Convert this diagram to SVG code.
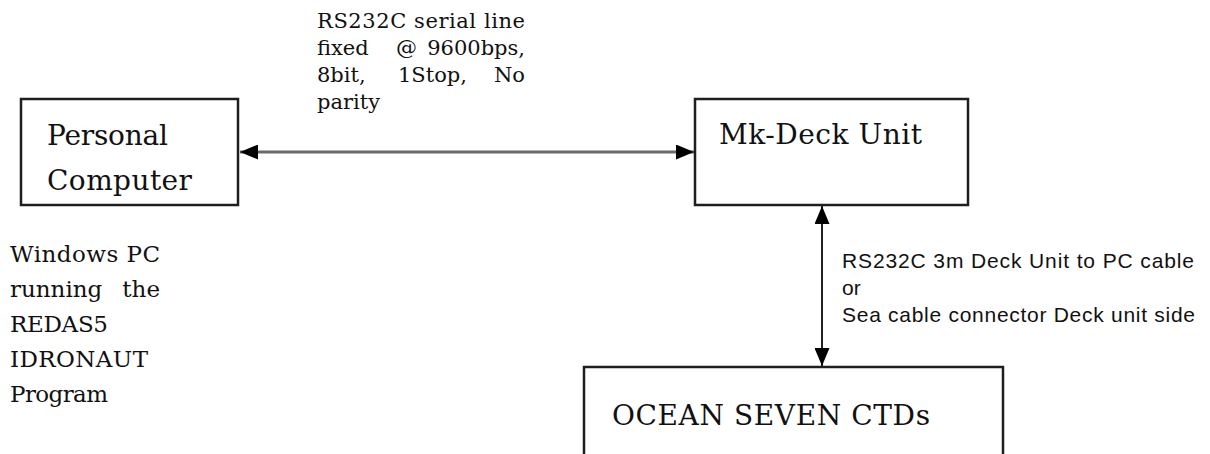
<svg xmlns="http://www.w3.org/2000/svg" width="1210" height="454" viewBox="0 0 1210 454">
<style>
.box{fill:#fff;stroke:#1e1e1e;stroke-width:2.5}
.ln{fill:none}
.h{stroke:#6a6a6a;stroke-width:3}
.v{stroke:#222;stroke-width:2}
.big{font-family:"DejaVu Serif","Liberation Serif",serif;font-size:28px;fill:#111}
.mid{font-family:"DejaVu Serif","Liberation Serif",serif;font-size:23px;fill:#111}
.sm{font-family:"DejaVu Serif","Liberation Serif",serif;font-size:21px;fill:#111}
.sans{font-family:"Liberation Sans","DejaVu Sans",sans-serif;font-size:21px;fill:#111}
.end{text-anchor:end}
</style>
<defs>
<marker id="ah" markerUnits="userSpaceOnUse" markerWidth="18" markerHeight="15" refX="18" refY="7.5" orient="auto-start-reverse">
<path d="M0,0 L18,7.5 L0,15 z" fill="#000"/>
</marker>
</defs>
<rect width="1210" height="454" fill="#fff"/>
<g id="connectors">
<line class="ln h" x1="240" y1="152" x2="694" y2="152" marker-start="url(#ah)" marker-end="url(#ah)"/>
<line class="ln v" x1="822" y1="206" x2="822" y2="366" marker-start="url(#ah)" marker-end="url(#ah)"/>
</g>
<g id="pc">
<rect class="box" x="21" y="99" width="217" height="106"/>
<text class="big" x="47" y="145" textLength="121">Personal</text>
<text class="big" x="47" y="190" textLength="145">Computer</text>
</g>
<g id="deck">
<rect class="box" x="695" y="99" width="273" height="106"/>
<text class="big" x="719" y="144" textLength="203">Mk-Deck Unit</text>
</g>
<g id="ctd">
<rect class="box" x="584" y="367" width="419" height="100"/>
<text class="big" x="612" y="425" textLength="318">OCEAN SEVEN CTDs</text>
</g>
<g id="serial-label">
<text class="sm" x="317" y="28" textLength="208">RS232C serial line</text>
<text class="sm" x="317" y="55">fixed</text>
<text class="sm" x="396" y="55">@</text>
<text class="sm end" x="525" y="55">9600bps,</text>
<text class="sm" x="317" y="82">8bit,</text>
<text class="sm" x="398" y="82">1Stop,</text>
<text class="sm end" x="525" y="82">No</text>
<text class="sm" x="317" y="109">parity</text>
</g>
<g id="pc-label">
<text class="mid" x="10" y="262" textLength="150">Windows PC</text>
<text class="mid" x="10" y="297">running</text>
<text class="mid end" x="160" y="297">the</text>
<text class="mid" x="10" y="332" textLength="98">REDAS5</text>
<text class="mid" x="10" y="367" textLength="138">IDRONAUT</text>
<text class="mid" x="10" y="402" textLength="98">Program</text>
</g>
<g id="cable-label">
<text class="sans" x="842" y="268" textLength="352">RS232C 3m Deck Unit to PC cable</text>
<text class="sans" x="842" y="295">or</text>
<text class="sans" x="842" y="322" textLength="353">Sea cable connector Deck unit side</text>
</g>
</svg>
